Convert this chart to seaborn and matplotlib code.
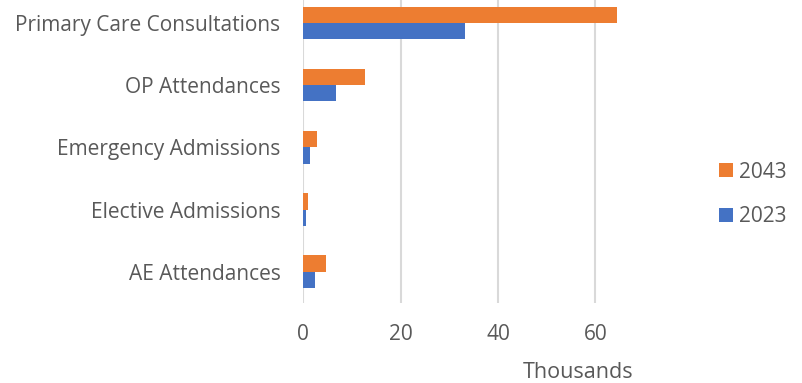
import matplotlib
matplotlib.use("Agg")
import matplotlib.pyplot as plt
import seaborn as sns
import pandas as pd
from matplotlib.patches import Patch

categories = ["Primary Care Consultations", "OP Attendances", "Emergency Admissions",
              "Elective Admissions", "AE Attendances"]
years = ["2043", "2023"]
values_2043 = [64.5, 12.7, 2.9, 1.0, 4.7]
values_2023 = [33.3, 6.7, 1.45, 0.5, 2.3]
x_ticks = [0, 20, 40, 60]

df = pd.DataFrame({
    "category": categories * 2,
    "year": [years[0]] * len(categories) + [years[1]] * len(categories),
    "value": values_2043 + values_2023,
})

colors = {"2043": "#ED7D31", "2023": "#4472C4"}
text_color = "#595959"
fs = 15

sns.set_theme(style="white")
plt.rcParams["font.family"] = ["Open Sans", "DejaVu Sans"]

fig = plt.figure(figsize=(8.02, 3.83), dpi=100)
ax = fig.add_axes([0.3782, 0.2094, 0.4248, 0.812])

sns.barplot(data=df, y="category", x="value", hue="year", order=categories,
            hue_order=years, palette=colors, orient="h", width=0.525,
            linewidth=0, saturation=1, ax=ax, legend=False)

ax.set_xlim(0, 70)
ax.set_xticks(x_ticks)
ax.xaxis.grid(True, color="#D9D9D9", linewidth=1.5)
ax.set_axisbelow(True)
for s in ax.spines.values():
    s.set_visible(False)
ax.set_xlabel("")
ax.set_ylabel("")
ax.tick_params(axis="y", length=0, pad=16.5, labelsize=fs, labelcolor=text_color)
ax.tick_params(axis="x", length=0, pad=15.5, labelsize=fs, labelcolor=text_color)

fig.text(578 / 802, 1 - 373 / 383, "Thousands", ha="center", va="center",
         fontsize=fs + 0.5, color=text_color)

handles = [Patch(facecolor=colors[y], edgecolor="none") for y in years]
fig.legend(handles, years, loc="center left", bbox_to_anchor=(700 / 802, 1 - 194.5 / 383),
           frameon=False, handlelength=0.67, handleheight=0.67, handletextpad=0.3,
           labelspacing=1.15, fontsize=fs, labelcolor=text_color)

fig.savefig("out.png", dpi=100)
